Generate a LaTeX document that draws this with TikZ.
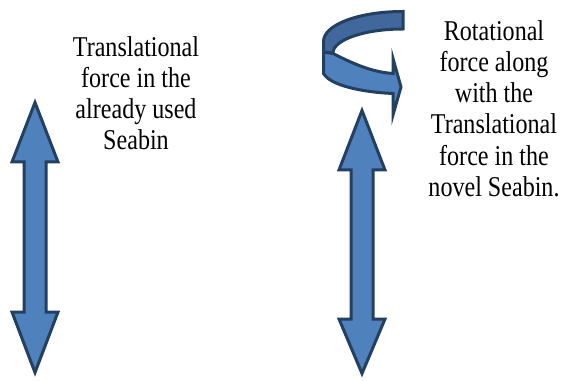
\documentclass[tikz,border=0pt]{standalone}
\usepackage{fontspec}
\setmainfont{Liberation Serif}[FakeStretch=0.84]

\tikzset{every picture/.style={line width=0.75pt}}
\tikzset{
  bluearrow/.style={draw={rgb, 255:red, 36; green, 64; blue, 97 }, fill={rgb, 255:red, 79; green, 129; blue, 189 }, line width=2.25},
  ribbonback/.style={bluearrow, fill={rgb, 255:red, 64; green, 104; blue, 156 }},
  forcetext/.style={anchor=base, align=center, inner sep=0pt, font=\fontsize{21.5}{23.25}\selectfont},
}

\begin{document}
\begin{tikzpicture}[x=0.75pt,y=0.75pt,yscale=-1,xscale=1]
%set diagram left start at 0, and has height of 381
\useasboundingbox (0,0) rectangle (564,381);

%Shape: Up-Down Arrow [id:dp2719403385120461] 
\draw  [bluearrow]  (35,102.5) -- (58,162) -- (46,162) -- (46,312) -- (58,312) -- (35,372.5) -- (12,312) -- (24,312) -- (24,162) -- (12,162) -- cycle ;
%Shape: Up-Down Arrow [id:dp8063157724498312] 
\draw  [bluearrow]  (362,110.5) -- (385,170) -- (373,170) -- (373,319) -- (385,319) -- (362,373.5) -- (339,319) -- (351,319) -- (351,170) -- (339,170) -- cycle ;

%Shape: Circular Arrow, back part [id:dp5530971184026649] 
\draw  [ribbonback]  (403,11.5) -- (403,29) .. controls (364,29) and (333,40) .. (333,53) -- (323.5,52) -- (323.5,41.5) .. controls (323.5,25) and (358,11.5) .. (403,11.5) -- cycle ;
%Shape: Circular Arrow, front part [id:dp1947260358830275] 
\draw  [bluearrow]  (323.5,52) -- (333,53.5) .. controls (350,62) and (370,72) .. (393,73.5) -- (393,58.5) -- (401,87) -- (393,115) -- (393,93.5) .. controls (360,92) and (330,85) .. (323.5,73.5) -- cycle ;

% Text Node
\draw (136,150) node (oldSeabin) [forcetext] {Translational\\force in the\\already used\\Seabin};
% Text Node
\draw (494,196) node (novelSeabin) [forcetext] {Rotational\\force along\\with the\\Translational\\force in the\\novel Seabin.};

\end{tikzpicture}
\end{document}
